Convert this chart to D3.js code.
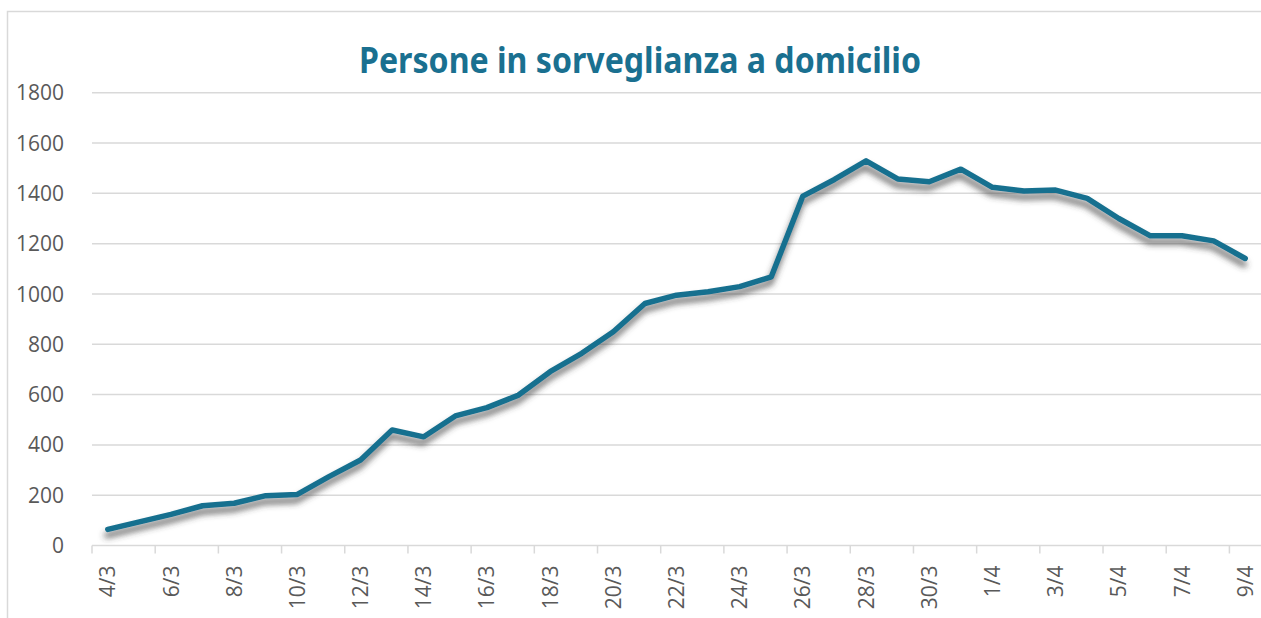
<!DOCTYPE html>
<html><head><meta charset="utf-8">
<script src="https://cdn.jsdelivr.net/npm/d3@7"></script>
<style>html,body{margin:0;padding:0;background:#fff;}svg{display:block;}</style>
</head><body>
<svg id="c" width="1261" height="618"></svg>
<script>
const title = "Persone in sorveglianza a domicilio";
const dates = ["4/3","5/3","6/3","7/3","8/3","9/3","10/3","11/3","12/3","13/3","14/3","15/3","16/3","17/3","18/3","19/3","20/3","21/3","22/3","23/3","24/3","25/3","26/3","27/3","28/3","29/3","30/3","31/3","1/4","2/4","3/4","4/4","5/4","6/4","7/4","8/4","9/4"];
const values = [64,94,124,158,168,198,203,274,340,459,432,515,548,598,691,764,850,962,995,1009,1029,1068,1389,1455,1529,1457,1446,1496,1424,1409,1413,1380,1300,1231,1231,1211,1141];
const yTicks = [0,200,400,600,800,1000,1200,1400,1600,1800];

const svg = d3.select("#c");
const plotL = 92, plotR = 1261, plotT = 92.7, plotB = 545.5;

// outer frame
svg.append("rect").attr("x",7.5).attr("y",11.5).attr("width",1262).attr("height",620)
  .attr("fill","none").attr("stroke","#d9d9d9").attr("stroke-width",1.5);

const defs = svg.append("defs");
const f = defs.append("filter").attr("id","sh").attr("x","-5%").attr("y","-10%").attr("width","110%").attr("height","130%");
f.append("feDropShadow").attr("dx",-1).attr("dy",6).attr("stdDeviation",3)
  .attr("flood-color","#3a3a3a").attr("flood-opacity",0.75);

const x = d3.scaleBand().domain(dates).range([plotL,plotR]).padding(0);
const y = d3.scaleLinear().domain([0,1800]).range([plotB,plotT]);

// gridlines
svg.append("g").selectAll("line").data(yTicks.filter(d=>d>0)).join("line")
  .attr("x1",plotL).attr("x2",plotR).attr("y1",d=>y(d)).attr("y2",d=>y(d))
  .attr("stroke","#d9d9d9").attr("stroke-width",1.5);

// y labels
svg.append("g").selectAll("text").data(yTicks).join("text")
  .attr("x",64).attr("y",d=>y(d)).attr("dy","0.36em").attr("text-anchor","end")
  .attr("font-family","'Open Sans', sans-serif").attr("font-size",21).attr("fill","#595959")
  .text(d=>d);

// x axis
const xAxis = svg.append("g");
xAxis.append("line").attr("x1",plotL).attr("x2",plotR).attr("y1",plotB).attr("y2",plotB)
  .attr("stroke","#d9d9d9").attr("stroke-width",1.5);
const tickIdx = dates.map((d,i)=>i).filter(i=>i%2===0);
xAxis.selectAll("line.t").data(tickIdx).join("line").attr("class","t")
  .attr("x1",i=>x(dates[i])).attr("x2",i=>x(dates[i]))
  .attr("y1",plotB).attr("y2",plotB+8).attr("stroke","#d9d9d9").attr("stroke-width",1.5);
xAxis.selectAll("text").data(tickIdx).join("text")
  .attr("transform",i=>`translate(${x(dates[i])+x.bandwidth()/2},${plotB+20}) rotate(-90)`)
  .attr("text-anchor","end").attr("dy","0.36em")
  .attr("font-family","'Open Sans', sans-serif").attr("font-size",21).attr("fill","#595959")
  .text(i=>dates[i]);

// line
const line = d3.line().x((d,i)=>x(dates[i])+x.bandwidth()/2).y(d=>y(d)).curve(d3.curveLinear);
svg.append("path").datum(values).attr("d",line).attr("fill","none")
  .attr("stroke","#18708f").attr("stroke-width",5.5).attr("stroke-linejoin","round").attr("stroke-linecap","round")
  .attr("filter","url(#sh)");

// title
svg.append("text").attr("x",640).attr("y",73).attr("text-anchor","middle")
  .attr("font-family","'Noto Sans', sans-serif").attr("font-weight","bold").attr("font-size",35)
  .attr("fill","#1a7090").attr("textLength",562).attr("lengthAdjust","spacingAndGlyphs")
  .text(title);
</script>
</body></html>
